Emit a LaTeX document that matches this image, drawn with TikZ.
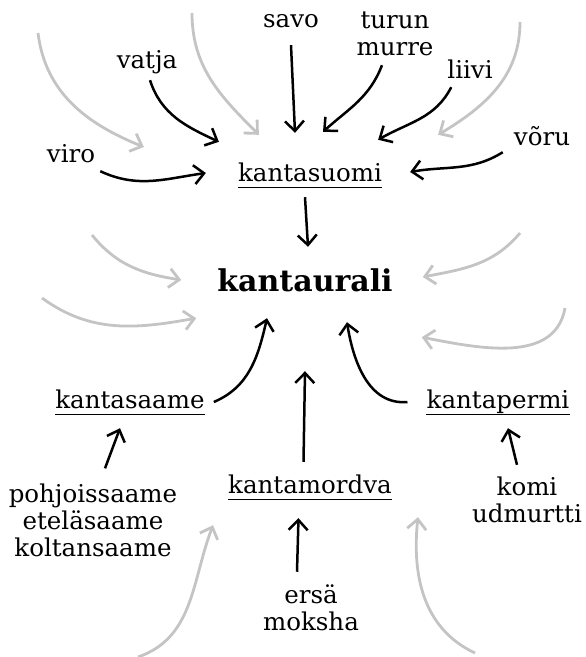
\documentclass[tikz,border=0pt]{standalone}
\usepackage{fontspec}
\setmainfont{DejaVu Serif}
\usetikzlibrary{arrows.meta}

\definecolor{ghost}{RGB}{196,196,196}

\tikzset{
  lang/.style={font=\fontsize{24.5}{27}\selectfont, inner sep=0pt, anchor=base,
    text height=18pt, text depth=6pt},
  langs/.style={font=\fontsize{24.5}{27}\selectfont, inner sep=0pt, align=center},
  proto/.style={lang, append after command={
    (\tikzlastnode.south west) edge[line width=1.3pt] (\tikzlastnode.south east)}},
  root/.style={font=\fontsize{30}{36}\selectfont\bfseries, inner sep=0pt,
    anchor=base, text height=24pt, text depth=8pt},
  arr/.style={line width=2.5pt, -{Straight Barb[length=10pt,width=19pt]}},
  ghostarr/.style={arr, line width=2.8pt, draw=ghost}
}

\begin{document}
\begin{tikzpicture}[x=1pt,y=1pt]
\useasboundingbox (0,0) rectangle (586,-657);

% Finnic dialects
\node[lang] (savo) at (291,-27) {savo};
\node[langs] (turun) at (395,-34) {turun\\murre};
\node[lang] (vatja) at (147,-68) {vatja};
\node[lang] (liivi) at (470,-78) {liivi};
\node[lang] (viro) at (71,-162) {viro};
\node[lang] (voru) at (542,-145) {võru};

% Proto languages
\node[proto] (kantasuomi) at (310,-181) {kantasuomi};
\node[root] (kantaurali) at (305,-291) {kantaurali};
\node[proto] (kantasaame) at (130,-408) {kantasaame};
\node[proto] (kantapermi) at (498,-408) {kantapermi};
\node[proto] (kantamordva) at (310,-493) {kantamordva};

% Daughter languages
\node[langs] (saame) at (93,-520) {pohjoissaame\\eteläsaame\\koltansaame};
\node[langs] (komi) at (527,-500) {komi\\udmurtti};
\node[langs] (ersa) at (311,-608) {ersä\\moksha};

%--------------------------------------------------
% Into kantasuomi
%--------------------------------------------------
\draw[arr] ([yshift=-12pt]savo.south) -- ([xshift=-15pt,yshift=30pt]kantasuomi.north);
\draw[arr] ([xshift=-13pt,yshift=-9pt]turun.south) to[out=-111,in=42]
  ([xshift=13pt,yshift=31pt]kantasuomi.north);
\draw[arr] ([xshift=4pt,yshift=-3pt]liivi.south west) to[out=-117,in=30]
  ([xshift=-4pt,yshift=23pt]kantasuomi.north east);
\draw[arr] ([xshift=3pt,yshift=-6pt]vatja.south) to[out=-72,in=155]
  ([xshift=-19pt,yshift=21pt]kantasuomi.north west);
\draw[arr] ([xshift=5pt,yshift=-3pt]viro.south east) to[out=-25,in=-172]
  ([xshift=-32pt,yshift=2pt]kantasuomi.west);
\draw[arr] ([xshift=-11pt,yshift=-1pt]voru.south west) to[out=-148,in=10]
  ([xshift=28pt,yshift=3pt]kantasuomi.east);

%--------------------------------------------------
% Into kantaurali
%--------------------------------------------------
\draw[arr] ([xshift=-5pt,yshift=-10pt]kantasuomi.south) -- ([xshift=3pt,yshift=20pt]kantaurali.north);
\draw[arr] ([xshift=9pt]kantasaame.east) to[out=23,in=-103]
  ([xshift=-38pt,yshift=-19pt]kantaurali.south);
\draw[arr] ([xshift=-19pt]kantapermi.west) to[out=185,in=-81]
  ([xshift=42pt,yshift=-23pt]kantaurali.south);
\draw[arr] ([xshift=-6.5pt,yshift=13pt]kantamordva.north) -- ([yshift=-72pt]kantaurali.south);

%--------------------------------------------------
% Into the other proto languages
%--------------------------------------------------
\draw[arr] ([xshift=12pt,yshift=15pt]saame.north) -- ([xshift=-10pt,yshift=-14pt]kantasaame.south);
\draw[arr] ([xshift=-10pt,yshift=12pt]komi.north) -- ([xshift=10pt,yshift=-14pt]kantapermi.south);
\draw[arr] ([xshift=-14pt,yshift=13pt]ersa.north) -- ([xshift=-11.5pt,yshift=-19pt]kantamordva.south);

%--------------------------------------------------
% Loose influences
%--------------------------------------------------
\coordinate (g1) at (38,-33);
\coordinate (g2) at (192,-13);
\coordinate (g3) at (520,-22);
\coordinate (g4) at (92,-235);
\coordinate (g5) at (42,-298);
\coordinate (g6) at (520,-233);
\coordinate (g7) at (565,-308);
\coordinate (g8) at (138,-657);
\coordinate (g9) at (475,-653);

\draw[ghostarr] (g1) to[out=-83,in=158] ([xshift=-94pt,yshift=28pt]kantasuomi.west);
\draw[ghostarr] (g2) to[out=-90,in=135] ([xshift=21pt,yshift=28pt]kantasuomi.north west);
\draw[ghostarr] (g3) to[out=-90,in=31] ([xshift=56pt,yshift=28pt]kantasuomi.north east);
\draw[ghostarr] (g4) to[out=-51,in=171] ([xshift=-36pt,yshift=3pt]kantaurali.west);
\draw[ghostarr] (g5) to[out=-36,in=190] ([xshift=-21pt,yshift=-19pt]kantaurali.south west);
\draw[ghostarr] (g6) to[out=-130,in=11] ([xshift=30pt,yshift=6pt]kantaurali.east);
\draw[ghostarr] (g7) to[out=-100,in=-11] ([xshift=29pt,yshift=-38pt]kantaurali.south east);
\draw[ghostarr] (g8) to[out=19,in=-111] ([xshift=-15pt,yshift=-26pt]kantamordva.south west);
\draw[ghostarr] (g9) to[out=155,in=-96] ([xshift=26pt,yshift=-18pt]kantamordva.south east);

\end{tikzpicture}
\end{document}
